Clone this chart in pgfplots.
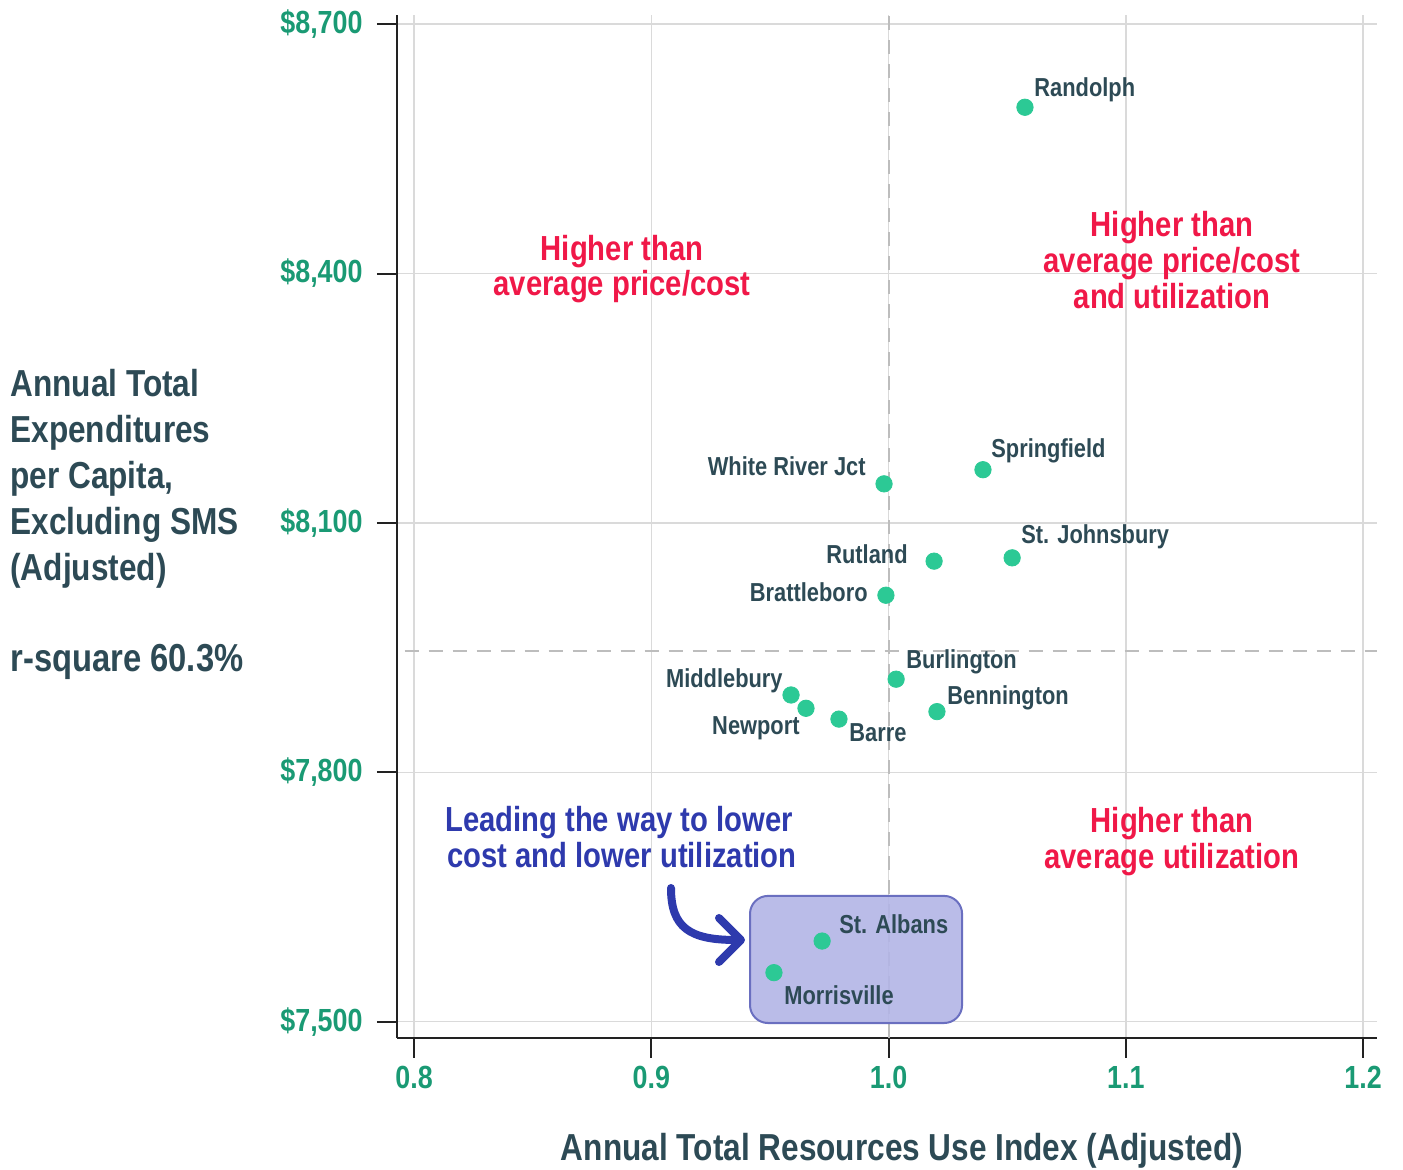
\documentclass[border=0pt]{standalone}
\usepackage{fontspec}
\setmainfont{Liberation Sans}[FakeStretch=0.84]
\usepackage{pgfplots}
\pgfplotsset{compat=1.18}

\definecolor{tickgreen}{HTML}{1A9A74}
\definecolor{dotgreen}{HTML}{2CC995}
\definecolor{labeldark}{HTML}{2D4A55}
\definecolor{hotred}{HTML}{F01848}
\definecolor{leadblue}{HTML}{2E3AAD}
\definecolor{boxfill}{HTML}{B3B5E6}
\definecolor{boxedge}{HTML}{6A6FC0}
\definecolor{gridgray}{HTML}{DADADA}
\definecolor{dashgray}{HTML}{BDBDBD}
\definecolor{axisblack}{HTML}{222222}

\begin{document}
\begin{tikzpicture}
\begin{axis}[
    at={(0,0)}, anchor=south west,
    width=490pt, height=511.5pt, scale only axis,
    xmin=0.7928, xmax=1.2059,
    ymin=7480.4, ymax=8711,
    axis x line*=bottom, axis y line*=left,
    axis line style={line width=1pt, color=axisblack},
    xtick={0.8,0.9,1.0,1.1,1.2},
    xticklabels={0.8,0.9,1.0,1.1,1.2},
    ytick={7500,7800,8100,8400,8700},
    yticklabels={{\$7,500},{\$7,800},{\$8,100},{\$8,400},{\$8,700}},
    tick align=outside, major tick length=10pt,
    tick style={line width=1pt, color=axisblack},
    grid=major,
    major grid style={line width=0.75pt, color=gridgray},
    ticklabel style={font=\bfseries\fontsize{16}{18}\selectfont, text=tickgreen},
    yticklabel style={anchor=east, inner sep=0pt, xshift=-7pt},
    xticklabel style={anchor=north, inner sep=0pt, yshift=-4pt},
    clip=false,
]
% average lines
\draw[dashgray, line width=1pt, dash pattern=on 7pt off 5pt]
    (axis cs:1.0,7480.4) -- (axis cs:1.0,8711);
\draw[dashgray, line width=1pt, dash pattern=on 7pt off 5pt]
    (axis cs:0.796,7946) -- (axis cs:1.2059,7946);
% highlight box
\draw[boxedge, line width=1pt, fill=boxfill, fill opacity=0.9, rounded corners=9pt]
    (axis cs:0.9416,7498.4) rectangle (axis cs:1.031,7651.3);

\addplot[only marks, mark=*, mark size=4.1pt,
    mark options={fill=dotgreen, draw=dotgreen}] coordinates {
    (1.0575, 8600)  % Randolph
    (1.0398, 8164)  % Springfield
    (0.9981, 8147)  % White River Jct
    (1.0521, 8058)  % St. Johnsbury
    (1.0192, 8054)  % Rutland
    (0.9989, 8013)  % Brattleboro
    (1.0032, 7912)  % Burlington
    (0.9589, 7893)  % Middlebury
    (0.9652, 7877)  % Newport
    (0.9791, 7864)  % Barre
    (1.0204, 7873)  % Bennington
    (0.9720, 7597)  % St. Albans
    (0.9517, 7559)  % Morrisville
};
\end{axis}

% annotations in reference pixel units
\begin{scope}[xshift=-198.5pt, yshift=519pt, x=0.5pt, y=-0.5pt]
\tikzset{
    pl/.style={font=\bfseries\fontsize{13}{15}\selectfont, text=labeldark, inner sep=0pt},
    big/.style={font=\bfseries\fontsize{18.8}{23}\selectfont, text=labeldark, inner sep=0pt, anchor=base west},
    red/.style={font=\bfseries\fontsize{17.4}{18}\selectfont, text=hotred, inner sep=0pt, anchor=base},
    blue/.style={font=\bfseries\fontsize{17.4}{18}\selectfont, text=leadblue, inner sep=0pt, anchor=base},
}
% point labels
\node[pl, anchor=base west] at (1034,97)  {Randolph};
\node[pl, anchor=base west] at (991,458)  {Springfield};
\node[pl, anchor=base east] at (866,476)  {White River Jct};
\node[pl, anchor=base west] at (1021,544) {St. Johnsbury};
\node[pl, anchor=base east] at (908,564)  {Rutland};
\node[pl, anchor=base east] at (868,602)  {Brattleboro};
\node[pl, anchor=base west] at (906,669)  {Burlington};
\node[pl, anchor=base east] at (783,688)  {Middlebury};
\node[pl, anchor=base east] at (800,735)  {Newport};
\node[pl, anchor=base west] at (849,742)  {Barre};
\node[pl, anchor=base west] at (947,705)  {Bennington};
\node[pl, anchor=base west] at (839,934)  {St. Albans};
\node[pl, anchor=base west] at (784,1005) {Morrisville};

% quadrant notes
\node[red] at (622,261) {Higher than};
\node[red] at (622,296) {average price/cost};
\node[red] at (1172,237) {Higher than};
\node[red] at (1172,273) {average price/cost};
\node[red] at (1172,309) {and utilization};
\node[red] at (1172,833) {Higher than};
\node[red] at (1172,869) {average utilization};
\node[blue] at (619,832) {Leading the way to lower};
\node[blue] at (622,868) {cost and lower utilization};

% curved arrow
\draw[leadblue, line width=4pt, line cap=round]
    (671,888) .. controls (671,928) and (690,940) .. (736,940);
\draw[leadblue, line width=4pt, line cap=round, line join=round]
    (719,918) -- (741,940) -- (719,962);

% axis titles
\node[big] at (10,397) {Annual Total};
\node[big] at (10,443) {Expenditures};
\node[big] at (10,489) {per Capita,};
\node[big] at (10,535) {Excluding SMS};
\node[big] at (10,581) {(Adjusted)};
\node[font=\bfseries\fontsize{19.5}{23}\selectfont, text=labeldark, inner sep=0pt, anchor=base west]
    at (10,672) {r-square 60.3\%};
\node[font=\bfseries\fontsize{18.8}{23}\selectfont, text=labeldark, inner sep=0pt, anchor=base]
    at (902,1161) {Annual Total Resources Use Index (Adjusted)};

\pgfresetboundingbox
\path[use as bounding box] (0,0) rectangle (1403,1170);
\end{scope}
\end{tikzpicture}
\end{document}
